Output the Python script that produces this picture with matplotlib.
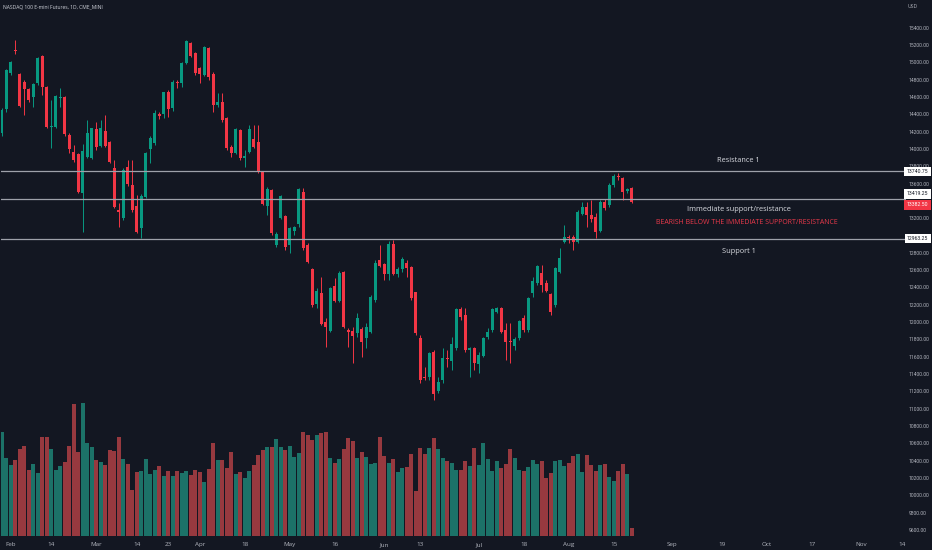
import numpy as np
import pandas as pd
import matplotlib
matplotlib.use('Agg')
import matplotlib.pyplot as plt
from matplotlib.transforms import blended_transform_factory

plt.rcParams['font.family'] = ['Open Sans', 'DejaVu Sans']

# daily bars, NASDAQ 100 E-mini, 2022-01-28 .. 2022-08-19
opens = [14179, 14457, 14873, 15143, 14865, 14776, 14688, 14603, 14757, 15073,
         14711, 14253, 14257, 14590, 14603, 14160, 13960, 13937, 13487, 13910,
         13900, 14226, 14033, 14206, 14076, 13775, 13294, 13198, 13787, 13583,
         13344, 13082, 13448, 13995, 14064, 14399, 14403, 14661, 14468, 14776,
         14757, 14996, 15227, 15111, 14930, 14853, 15161, 14865, 14507, 14545,
         14353, 14018, 13956, 14218, 13898, 13968, 14110, 14076, 13729, 13344,
         13525, 12890, 13198, 13225, 12890, 13052, 13129, 13506, 12890, 12609,
         12209, 12340, 12005, 11901, 12417, 12247, 12575, 11909, 11901, 11870,
         11920, 11820, 11889, 12255, 12717, 12671, 12551, 12902, 12555, 12609,
         12686, 12632, 12344, 11820, 11369, 11369, 11650, 11208, 11331, 11589,
         11550, 11697, 12147, 12082, 11677, 11697, 11516, 11608, 11824, 11909,
         12120, 12159, 11909, 11785, 11728, 11812, 12051, 11909, 12332, 12447,
         12563, 12455, 12320, 12197, 12582, 12929, 12986, 12979, 12929, 13248,
         13333, 13237, 13210, 13056, 13391, 13352, 13583, 13687, 13660, 13514,
         13545]
highs = [14470, 14925, 15010, 15258, 14880, 14795, 14700, 14760, 15060, 15085,
         14730, 14565, 14625, 14700, 14615, 14180, 14045, 13950, 14056, 14333,
         14245, 14314, 14333, 14391, 14090, 13872, 13371, 13775, 13872, 13872,
         13467, 13480, 13960, 14149, 14449, 14430, 14661, 14680, 14796, 14796,
         15007, 15258, 15238, 15123, 14950, 15188, 15180, 14892, 14642, 14642,
         14364, 14045, 14237, 14230, 13987, 14276, 14276, 14276, 13737, 13564,
         13533, 13044, 13467, 13237, 13102, 13110, 13544, 13545, 12910, 12621,
         12390, 12525, 12043, 12409, 12505, 12594, 12594, 11928, 11947, 12101,
         11947, 11986, 12313, 12717, 12890, 12686, 12940, 12948, 12640, 12748,
         12717, 12648, 12351, 11851, 11485, 11658, 11677, 11369, 11697, 11677,
         11831, 12159, 12178, 12159, 11716, 11716, 11658, 11831, 11928, 12159,
         12178, 12178, 11986, 11986, 11831, 12024, 12082, 12293, 12524, 12659,
         12659, 12486, 12332, 12640, 12852, 13121, 13006, 13006, 13295, 13391,
         13391, 13410, 13256, 13410, 13418, 13603, 13710, 13718, 13679, 13545,
         13564]
lows = [14150, 14430, 14850, 15100, 14480, 14391, 14545, 14488, 14740, 14622,
        14237, 14006, 14240, 14488, 14149, 13948, 13852, 13487, 13044, 13890,
        13885, 13987, 14020, 14018, 13833, 13313, 13101, 13180, 13571, 13275,
        13025, 12967, 13430, 13833, 14040, 14340, 14353, 14364, 14440, 14700,
        14719, 14980, 15065, 14853, 14757, 14842, 14796, 14430, 14488, 14314,
        13987, 13910, 13941, 13872, 13795, 13949, 14006, 13718, 13352, 13236,
        13006, 12870, 13186, 12832, 12794, 13000, 13102, 12833, 12679, 12178,
        12159, 11966, 11716, 11889, 12236, 12236, 11928, 11716, 11523, 11831,
        11600, 11697, 11870, 12236, 12633, 12486, 12486, 12544, 12525, 12582,
        12525, 12255, 11851, 11293, 11331, 11331, 11100, 11177, 11293, 11485,
        11447, 11678, 12024, 11658, 11370, 11446, 11408, 11600, 11810, 11890,
        12101, 11870, 11563, 11524, 11678, 11793, 11889, 11889, 12294, 12428,
        12351, 12351, 12082, 12178, 12563, 12910, 12910, 12833, 12910, 13237,
        13102, 13160, 12967, 13044, 13295, 13333, 13564, 13641, 13410, 13487,
        13372]
closes = [14449, 14911, 15000, 15127, 14495, 14688, 14565, 14745, 15046, 14711,
          14249, 14260, 14615, 14605, 14172, 13999, 13872, 13506, 13975, 14187,
          14237, 14018, 14245, 14033, 13845, 13325, 13275, 13756, 13594, 13294,
          13044, 13460, 13956, 14122, 14418, 14380, 14653, 14457, 14769, 14765,
          14996, 15246, 15073, 14873, 14861, 15173, 14834, 14507, 14545, 14334,
          14006, 13949, 14230, 13898, 13918, 14230, 14018, 13737, 13363, 13537,
          13025, 13017, 13460, 12863, 13082, 13094, 13533, 12859, 12698, 12197,
          12359, 11974, 11947, 12390, 12247, 12571, 11947, 11889, 11843, 12043,
          11774, 11947, 12293, 12686, 12648, 12551, 12902, 12551, 12609, 12725,
          12621, 12274, 11870, 11331, 11350, 11639, 11165, 11312, 11581, 11575,
          11747, 12147, 12055, 11677, 11697, 11531, 11620, 11812, 11882, 12147,
          12159, 11889, 11774, 11766, 11805, 12013, 11909, 12282, 12474, 12648,
          12428, 12363, 12113, 12621, 12744, 12979, 12967, 12929, 13275, 13333,
          13237, 13187, 13044, 13391, 13314, 13583, 13687, 13672, 13499, 13533,
          13382.5]
# volume, thousands of contracts
volumes = [622, 466, 426, 456, 520, 540, 396, 430, 376, 592,
           592, 520, 396, 420, 446, 540, 792, 506, 796, 556,
           536, 456, 446, 426, 516, 512, 596, 462, 432, 276,
           386, 390, 460, 372, 396, 420, 360, 392, 360, 390,
           376, 390, 366, 396, 382, 326, 400, 556, 456, 456,
           410, 502, 372, 386, 350, 392, 426, 486, 516, 532,
           536, 580, 536, 516, 542, 472, 500, 626, 606, 577,
           606, 616, 622, 470, 440, 460, 522, 586, 572, 466,
           506, 476, 432, 436, 592, 482, 436, 462, 382, 406,
           412, 490, 270, 526, 490, 530, 590, 520, 466, 452,
           440, 396, 396, 450, 420, 526, 426, 560, 462, 390,
           452, 410, 430, 520, 466, 396, 390, 416, 456, 430,
           450, 350, 380, 450, 456, 422, 436, 482, 490, 386,
           486, 426, 390, 426, 432, 356, 330, 392, 432, 372,
           46]

holidays = ['2022-02-21', '2022-04-15', '2022-05-30', '2022-06-20',
            '2022-07-04', '2022-09-05', '2022-11-24']
tick_dates = ['2022-02-01', '2022-02-14', '2022-03-01', '2022-03-14', '2022-03-23',
              '2022-04-01', '2022-04-18', '2022-05-02', '2022-05-16', '2022-06-01',
              '2022-06-13', '2022-07-01', '2022-07-18', '2022-08-01', '2022-08-15',
              '2022-09-01', '2022-09-19', '2022-10-03', '2022-10-17', '2022-11-01',
              '2022-11-14']
tick_names = ['Feb', '14', 'Mar', '14', '23', 'Apr', '18', 'May', '16', 'Jun', '13',
              'Jul', '18', 'Aug', '15', 'Sep', '19', 'Oct', '17', 'Nov', '14']

levels = [13740.75, 13419.25, 12963.25]
level_texts = ['Resistance 1', 'Immediate support/resistance', 'Support 1']
level_text_prices = [13870, 13300, 12820]
warning = 'BEARISH BELOW THE IMMEDIATE SUPPORT/RESISTANCE'
warning_price = 13150

bg = '#131722'
up, dn = '#089981', '#f23645'
up_v, dn_v = '#1c7268', '#97393f'
txt = '#b2b5be'

cal = pd.bdate_range('2022-01-28', '2022-12-30', freq='C', holidays=holidays)
pos = {d: i for i, d in enumerate(cal)}
ticks = [pos[pd.Timestamp(d)] for d in tick_dates]

o = np.array(opens, float); h = np.array(highs, float)
l = np.array(lows, float); c = np.array(closes, float)
v = np.array(volumes, float)
x = np.arange(len(o))
rise = c >= o

fig = plt.figure(figsize=(9.32, 5.5), dpi=100, facecolor=bg)
ax = fig.add_axes([0.001, 14 / 550, 905 / 932, 536 / 550])
vax = ax.twinx()
ax.set_zorder(vax.get_zorder() + 1)
ax.patch.set_visible(False)
vax.set_facecolor(bg)

vax.bar(x, v, width=0.86, color=np.where(rise, up_v, dn_v), linewidth=0)
vax.set_ylim(0, 3216)
vax.set_yticks([])

col = np.where(rise, up, dn)
ax.vlines(x, l, h, colors=col, linewidth=0.7)
body = np.maximum(np.abs(c - o), 10)
ax.bar(x, body, bottom=np.minimum(o, c), width=0.7, color=col, linewidth=0)

ax.set_xlim(-0.2, 200.9)
ax.set_ylim(9529, 15720)

for a in (ax, vax):
    for s in a.spines.values():
        s.set_visible(False)

ax.set_xticks(ticks, tick_names)
ax.tick_params(axis='x', length=0, pad=4.2, labelsize=4.5, labelcolor=txt)
yt = [p for p in range(9600, 15401, 200) if p not in (13000, 13400)]
ax.yaxis.tick_right()
ax.set_yticks(yt, ['%.2f' % p for p in yt])
ax.tick_params(axis='y', length=0, pad=2.0, labelsize=3.6, labelcolor=txt)
for t in ax.get_yticklabels():
    t.set_family(['Roboto', 'DejaVu Sans'])

for lv in levels:
    ax.axhline(lv, color='#9ea1aa', linewidth=0.9)

mid = 163.7
for p, s in zip(level_text_prices, level_texts):
    ax.text(mid, p, s, color='#d8dae0', fontsize=5.3, ha='center', va='center')
ax.text(165.6, warning_price, warning, color='#e8394a', fontsize=5.05,
        ha='center', va='center')

bt = blended_transform_factory(fig.transFigure, ax.transData)
boxes = [(levels[0], 0, 'white', '#131722'),
         (levels[1], 5.5, 'white', '#131722'),
         (closes[-1], -2.5, dn, 'white'),
         (levels[2], 0, 'white', '#131722')]
for p, dy, fc, tc in boxes:
    ax.annotate('%.2f' % p, xy=(917.5 / 932, p), xycoords=bt,
                xytext=(0, dy), textcoords='offset pixels',
                ha='center', va='center', fontsize=3.7, color=tc,
                family=['Roboto', 'DejaVu Sans'], annotation_clip=False,
                bbox=dict(boxstyle='square,pad=0.45', fc=fc, ec='none'))

fig.text(3 / 932, 1 - 7 / 550, 'NASDAQ 100 E-mini Futures, 1D, CME_MINI',
         color='#d1d4dc', fontsize=3.6, va='center', ha='left')
fig.text(913 / 932, 1 - 6 / 550, 'USD', color=txt, fontsize=3.6,
         va='center', ha='center')

fig.savefig('out.png', dpi=100, facecolor=bg)
